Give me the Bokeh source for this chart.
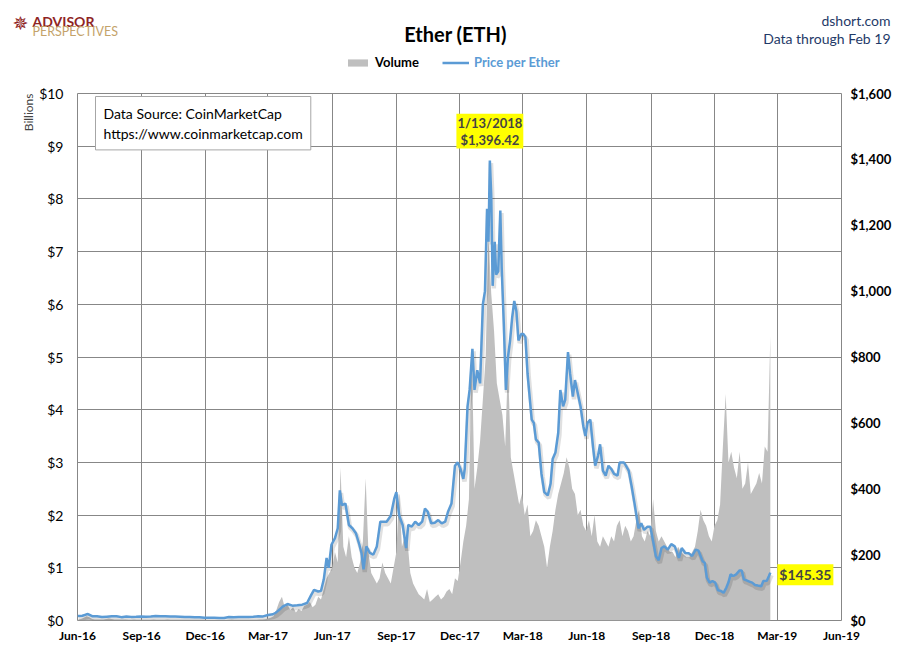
import numpy as np
import pandas as pd
from bokeh.plotting import figure
from bokeh.layouts import column
from bokeh.models import (Range1d, LinearAxis, FixedTicker, PrintfTickFormatter,
                          NumeralTickFormatter, DatetimeTickFormatter, Label, Legend,
                          LegendItem, ColumnDataSource, Title)
from bokeh.core.properties import value
from bokeh.embed import file_html
from bokeh.resources import INLINE

FONT = "Lato"

# ---------------- data ----------------
tick_dates = ["2016-06-01", "2016-09-01", "2016-12-01", "2017-03-01", "2017-06-01",
              "2017-09-01", "2017-12-01", "2018-03-01", "2018-06-01", "2018-09-01",
              "2018-12-01", "2019-03-01", "2019-06-01"]
left_ticks = [0, 1, 2, 3, 4, 5, 6, 7, 8, 9, 10]          # volume, $ billions
right_ticks = [0, 200, 400, 600, 800, 1000, 1200, 1400, 1600]  # price, $

price_dates = [
    "2016-06-01", "2016-06-08", "2016-06-13", "2016-06-16", "2016-06-22", "2016-06-29",
    "2016-07-06", "2016-07-13", "2016-07-20", "2016-07-27",
    "2016-08-03", "2016-08-10", "2016-08-17", "2016-08-24", "2016-08-31",
    "2016-09-07", "2016-09-14", "2016-09-21", "2016-09-28",
    "2016-10-05", "2016-10-12", "2016-10-19", "2016-10-26",
    "2016-11-02", "2016-11-09", "2016-11-16", "2016-11-23", "2016-11-30",
    "2016-12-07", "2016-12-14", "2016-12-21", "2016-12-28",
    "2017-01-04", "2017-01-11", "2017-01-18", "2017-01-25",
    "2017-02-01", "2017-02-08", "2017-02-15", "2017-02-22",
    "2017-03-01", "2017-03-08", "2017-03-12", "2017-03-15", "2017-03-18", "2017-03-22", "2017-03-29",
    "2017-04-05", "2017-04-12", "2017-04-19", "2017-04-26",
    "2017-05-02", "2017-05-06", "2017-05-12", "2017-05-16", "2017-05-20", "2017-05-24", "2017-05-27", "2017-05-31",
    "2017-06-05", "2017-06-09", "2017-06-12", "2017-06-15", "2017-06-20", "2017-06-25", "2017-06-30",
    "2017-07-05", "2017-07-10", "2017-07-13", "2017-07-16", "2017-07-20", "2017-07-25", "2017-07-30",
    "2017-08-04", "2017-08-09", "2017-08-14", "2017-08-18", "2017-08-24", "2017-08-29",
    "2017-09-01", "2017-09-05", "2017-09-10", "2017-09-15", "2017-09-18", "2017-09-23", "2017-09-28",
    "2017-10-03", "2017-10-08", "2017-10-12", "2017-10-16", "2017-10-21", "2017-10-26", "2017-10-31",
    "2017-11-05", "2017-11-10", "2017-11-14", "2017-11-19", "2017-11-24", "2017-11-28",
    "2017-12-02", "2017-12-06", "2017-12-08", "2017-12-12", "2017-12-15", "2017-12-19", "2017-12-22", "2017-12-26", "2017-12-30",
    "2018-01-03", "2018-01-06", "2018-01-09", "2018-01-11", "2018-01-13", "2018-01-15", "2018-01-17", "2018-01-20",
    "2018-01-22", "2018-01-25", "2018-01-28", "2018-01-30",
    "2018-02-02", "2018-02-05", "2018-02-08", "2018-02-11", "2018-02-14", "2018-02-17", "2018-02-20", "2018-02-23", "2018-02-27",
    "2018-03-02", "2018-03-05", "2018-03-08", "2018-03-11", "2018-03-14", "2018-03-17", "2018-03-20", "2018-03-24", "2018-03-28",
    "2018-04-01", "2018-04-06", "2018-04-10", "2018-04-13", "2018-04-17", "2018-04-21", "2018-04-24", "2018-04-28",
    "2018-05-01", "2018-05-05", "2018-05-08", "2018-05-12", "2018-05-15", "2018-05-19", "2018-05-23", "2018-05-27", "2018-05-30",
    "2018-06-02", "2018-06-06", "2018-06-10", "2018-06-13", "2018-06-17", "2018-06-20", "2018-06-24", "2018-06-28",
    "2018-07-02", "2018-07-06", "2018-07-10", "2018-07-15", "2018-07-18", "2018-07-24", "2018-07-27", "2018-07-31",
    "2018-08-04", "2018-08-08", "2018-08-11", "2018-08-14", "2018-08-18", "2018-08-22", "2018-08-27", "2018-08-31",
    "2018-09-05", "2018-09-08", "2018-09-12", "2018-09-16", "2018-09-20", "2018-09-25", "2018-09-30",
    "2018-10-05", "2018-10-11", "2018-10-15", "2018-10-20", "2018-10-25", "2018-10-30",
    "2018-11-04", "2018-11-08", "2018-11-14", "2018-11-17", "2018-11-20", "2018-11-24", "2018-11-28",
    "2018-12-02", "2018-12-06", "2018-12-10", "2018-12-14", "2018-12-18", "2018-12-21", "2018-12-24", "2018-12-28",
    "2019-01-01", "2019-01-06", "2019-01-09", "2019-01-12", "2019-01-16", "2019-01-20", "2019-01-24", "2019-01-28",
    "2019-02-01", "2019-02-06", "2019-02-09", "2019-02-14", "2019-02-17", "2019-02-19",
]
price_values = [
    13.9, 14.6, 18.0, 19.5, 13.0, 12.6,
    10.4, 11.5, 12.6, 12.8,
    10.2, 11.9, 11.0, 11.1, 11.9,
    11.7, 12.0, 13.3, 13.2,
    13.0, 11.9, 12.0, 11.6,
    11.0, 10.6, 10.0, 9.8, 8.6,
    8.4, 8.2, 7.8, 7.7,
    10.5, 9.8, 10.4, 10.5,
    10.7, 11.3, 12.9, 12.5,
    16.5, 19.0, 23.5, 28.5, 34.0, 42.0, 50.0,
    45.0, 46.0, 48.0, 53.0,
    78, 93, 88, 90, 125, 190, 160, 230,
    250, 280, 395, 350, 355, 290, 280,
    265, 230, 205, 155, 225, 205, 200,
    225, 300, 300, 300, 318, 370,
    390, 320, 290, 220, 290, 285, 300,
    290, 300, 340, 330, 295, 297, 305,
    295, 300, 330, 355, 470, 480,
    460, 430, 460, 650, 700, 825, 700, 760, 720,
    960, 1000, 1250, 1150, 1396.42, 1290, 1016, 1150, 1050, 1060, 1245, 1070,
    900, 700, 800, 850, 920, 970, 940, 850, 870,
    870, 860, 750, 680, 610, 600, 550, 540, 445,
    390, 380, 415, 490, 510, 570, 700, 650,
    670, 815, 750, 680, 730, 690, 650, 590, 560,
    600, 610, 525, 470, 500, 535, 455, 440,
    470, 460, 445, 440, 480, 480, 470, 455,
    410, 360, 320, 280, 295, 275, 285, 285,
    230, 195, 183, 220, 225, 215, 232,
    225, 190, 220, 205, 204, 196,
    215, 212, 180, 175, 130, 115, 120,
    115, 92, 90, 84, 100, 116, 140, 135,
    140, 152, 152, 125, 122, 118, 115, 108,
    106, 104, 120, 121, 135, 145.35,
]

# trading volume, $ billions, one reading every 4 days from 2016-06-02
volume_start = "2016-06-02"
volume_step = "4D"
volume_bn = [
    # 2016
    0.02, 0.03, 0.05, 0.08, 0.06, 0.03, 0.02, 0.02,
    0.02, 0.02, 0.03, 0.04, 0.03, 0.02, 0.02,
    0.02, 0.02, 0.02, 0.015, 0.015, 0.02, 0.015, 0.015,
    0.015, 0.015, 0.015, 0.015, 0.02, 0.015, 0.015,
    0.015, 0.015, 0.02, 0.015, 0.015, 0.015, 0.015, 0.012,
    0.012, 0.012, 0.012, 0.012, 0.012, 0.012, 0.012, 0.012,
    0.01, 0.01, 0.01, 0.01, 0.01, 0.01, 0.01, 0.01,
    # 2017
    0.015, 0.02, 0.015, 0.012, 0.012, 0.012, 0.012,
    0.012, 0.012, 0.015, 0.015, 0.02, 0.02, 0.025,
    0.04, 0.05, 0.08, 0.2, 0.35, 0.45, 0.25, 0.3,
    0.2, 0.25, 0.15, 0.22, 0.18, 0.28, 0.3, 0.35,
    0.25, 0.3, 0.45, 0.4, 0.6, 0.8, 0.9, 1.0,
    1.3, 1.1, 2.9, 1.4, 1.2, 1.6, 1.2,
    1.0, 0.9, 1.1, 1.5, 2.7, 1.3, 0.9, 0.8,
    0.7, 0.8, 1.1, 0.9, 0.8, 0.7, 1.0, 1.3,
    2.4, 1.4, 1.6, 1.5, 0.9, 0.7, 0.6,
    0.5, 0.45, 0.4, 0.6, 0.35, 0.4, 0.45, 0.5,
    0.4, 0.45, 0.55, 0.6, 0.5, 0.8, 0.75,
    1.1, 1.5, 1.8, 2.3, 5.2, 2.5, 2.9, 3.4,
    # 2018
    4.2, 5.0, 7.3, 6.2, 5.5, 4.5, 4.2, 3.9,
    3.3, 4.9, 3.1, 2.8, 2.5, 2.2, 2.4,
    2.0, 2.2, 1.6, 1.7, 1.9, 1.8, 1.6, 1.4,
    1.0, 1.4, 1.7, 2.1, 2.4, 2.6, 2.8,
    3.1, 2.9, 2.5, 2.4, 2.0, 2.1, 1.8, 1.7,
    1.9, 1.6, 2.0, 1.5, 1.4, 1.6, 1.5,
    1.4, 1.6, 1.5, 1.8, 1.9, 1.6, 1.8, 1.7,
    1.5, 1.6, 1.9, 2.1, 1.6, 1.5, 1.7, 1.6,
    2.3, 1.7, 1.5, 1.6, 1.5, 1.4, 1.3,
    1.3, 1.2, 1.4, 1.3, 1.25, 1.2, 1.2, 1.3,
    1.4, 1.7, 2.1, 1.9, 1.8, 1.6, 1.5,
    1.8, 1.9, 2.2, 3.3, 4.3, 3.0, 3.2, 2.9,
    # 2019
    2.7, 3.2, 2.5, 2.6, 3.0, 2.4, 2.5, 2.6,
    2.8, 2.6, 3.3, 3.2, 5.4,
]

# ---------------- styling constants ----------------
BLUE = "#5B9BD5"
GRAY_FILL = "#BFBFBF"
GRID = "#878787"
NAVY = "#1F3A68"
W = 894
HDR_H = 80
MAIN_H = 565

# ================= header (titles, logo, legend) =================
hdr = figure(width=W, height=HDR_H, x_range=Range1d(0, W), y_range=Range1d(HDR_H, 0),
             output_backend="svg", toolbar_location=None, min_border=0,
             x_axis_location=None, y_axis_location=None)
hdr.frame_align = False
hdr.outline_line_color = None
hdr.grid.visible = False
hdr.background_fill_color = "white"
hdr.border_fill_color = "white"

def hlabel(text, x, y, **kw):
    opts = dict(x=x, y=y, text=text, text_font=FONT, text_font_size="13px",
                text_color="black", text_baseline="alphabetic")
    opts.update(kw)
    hdr.add_layout(Label(**opts))

hlabel("Ether (ETH)", 455, 33, text_align="center", text_font_size="20px", text_font_style="bold")
hlabel("dshort.com", 890, 20, text_align="right", text_color=NAVY, text_font_size="14px")
hlabel("Data through Feb 19", 890, 38, text_align="right", text_color=NAVY, text_font_size="14px")
hlabel("ADVISOR", 32, 21, text_color="#8E2424", text_font_size="14px", text_font_style="bold")
hlabel("PERSPECTIVES", 32, 31, text_color="#C4A36A", text_font_size="12.5px")
hlabel("\u2735", 20, 22, text_align="center", text_baseline="middle", text_color="#8E2424",
       text_font="DejaVu Sans", text_font_size="19px")

# legend swatches: NaN proxies (draw nothing) styled like the main series
nan = float("nan")
vol_proxy = hdr.varea(x=[nan], y1=[nan], y2=[nan], fill_color=GRAY_FILL)
line_proxy = hdr.line(x=[nan], y=[nan], line_color=BLUE, line_width=2.5)
common = dict(orientation="horizontal", padding=0, margin=0, border_line_color=None,
              background_fill_alpha=0, label_standoff=5, label_height=14,
              label_text_font=FONT, label_text_font_size="13px",
              label_text_font_style="bold", glyph_height=9)
hdr.add_layout(Legend(items=[LegendItem(label=value("Volume"), renderers=[vol_proxy])],
                      location=(345, HDR_H - 70), glyph_width=25, label_text_color="black", **common))
hdr.add_layout(Legend(items=[LegendItem(label=value("Price per Ether"), renderers=[line_proxy])],
                      location=(442, HDR_H - 70), glyph_width=27, label_text_color=BLUE, **common))

# ================= main chart =================
pdates = pd.to_datetime(price_dates)
vdates = pd.date_range(volume_start, periods=len(volume_bn), freq=volume_step)
ticks_ms = [pd.Timestamp(d).value / 1e6 for d in tick_dates]

price_src = ColumnDataSource(dict(date=pdates, price=price_values))
vol_src = ColumnDataSource(dict(date=vdates, vol=volume_bn, zero=[0] * len(volume_bn)))
shadow_src = ColumnDataSource(dict(date=pdates + pd.Timedelta(hours=40),
                                   price=[v - 8 for v in price_values]))

p = figure(width=W, height=MAIN_H, x_axis_type="datetime",
           x_range=Range1d(pd.Timestamp(tick_dates[0]), pd.Timestamp(tick_dates[-1])),
           y_range=Range1d(left_ticks[0], left_ticks[-1]),
           output_backend="svg", toolbar_location=None,
           min_border_left=77, min_border_right=50, min_border_top=13, min_border_bottom=22)
p.frame_align = False
p.extra_y_ranges = {"price": Range1d(right_ticks[0], right_ticks[-1])}
p.background_fill_color = "white"
p.border_fill_color = "white"
p.outline_line_color = GRID
p.outline_line_width = 1

p.xgrid.ticker = FixedTicker(ticks=ticks_ms)
p.ygrid.ticker = FixedTicker(ticks=left_ticks)
p.xgrid.grid_line_color = GRID
p.ygrid.grid_line_color = GRID

def clean_axis(ax):
    ax.axis_line_color = None
    ax.major_tick_line_color = None
    ax.minor_tick_line_color = None
    ax.major_tick_out = 0
    ax.major_tick_in = 0
    ax.minor_tick_out = 0
    ax.minor_tick_in = 0
    ax.major_label_text_font = FONT
    ax.major_label_text_color = "black"

xa = p.xaxis[0]
clean_axis(xa)
xa.ticker = FixedTicker(ticks=ticks_ms)
xa.formatter = DatetimeTickFormatter(days="%b-%y", months="%b-%y", years="%b-%y",
                                     hours="%b-%y", minutes="%b-%y")
xa.major_label_text_font_size = "12px"
xa.major_label_text_font_style = "bold"
xa.major_label_standoff = 7

ya = p.yaxis[0]
clean_axis(ya)
ya.ticker = FixedTicker(ticks=left_ticks)
ya.formatter = PrintfTickFormatter(format="$%d")
ya.major_label_text_font_size = "14px"
ya.major_label_standoff = 14

rax = LinearAxis(y_range_name="price", ticker=FixedTicker(ticks=right_ticks),
                 formatter=NumeralTickFormatter(format="$0,0"))
clean_axis(rax)
rax.major_label_text_font_size = "13px"
rax.major_label_text_font_style = "bold"
rax.major_label_standoff = 9
p.add_layout(rax, "right")

p.add_layout(Title(text="Billions", align="right", text_font=FONT, text_font_size="12px",
                   text_font_style="normal", standoff=2), "left")

# glyphs
p.varea(x="date", y1="zero", y2="vol", source=vol_src, fill_color=GRAY_FILL)
p.line(x="date", y="price", source=shadow_src, y_range_name="price",
       line_color="black", line_alpha=0.12, line_width=4.5)
p.line(x="date", y="price", source=price_src, y_range_name="price",
       line_color=BLUE, line_width=2.5)

# data source box (screen units, relative to frame bottom-left)
FL, FB = 77, 623   # frame left / bottom in page pixels
src_text = "Data Source: CoinMarketCap\nhttps://www.coinmarketcap.com"
box = dict(x_units="screen", y_units="screen", text=src_text, text_font=FONT,
           text_font_size="14px", text_baseline="top", padding=8, text_line_height=1.2)
p.add_layout(Label(x=95 - FL + 3, y=FB - 99 - 3, text_alpha=0,
                   background_fill_color="#6f6f6f", background_fill_alpha=0.35, **box))
p.add_layout(Label(x=95 - FL, y=FB - 99, text_color="black",
                   background_fill_color="white", border_line_color="#A6A6A6", **box))

# value call-outs anchored to the data
imax = int(np.argmax(price_values))
pk_date = pdates[imax]
pk_text = f"{pk_date.month}/{pk_date.day}/{pk_date.year}\n${price_values[imax]:,.2f}"
p.add_layout(Label(x=pk_date.value / 1e6, y=price_values[imax], y_range_name="price",
                   text=pk_text, text_align="center", text_baseline="bottom", y_offset=12,
                   text_font=FONT, text_font_size="13px", text_font_style="bold",
                   text_line_height=1.05, background_fill_color="#FFFF00", padding=1))
last_date = pdates[-1]
p.add_layout(Label(x=last_date.value / 1e6, y=price_values[-1], y_range_name="price",
                   text=f"${price_values[-1]:,.2f}", text_align="left", text_baseline="middle",
                   x_offset=7, y_offset=-2,
                   text_font=FONT, text_font_size="14px", text_font_style="bold",
                   background_fill_color="#FFFF00", padding=2))

layout = column(hdr, p, spacing=0)
open("out.html", "w").write(file_html(layout, INLINE))
